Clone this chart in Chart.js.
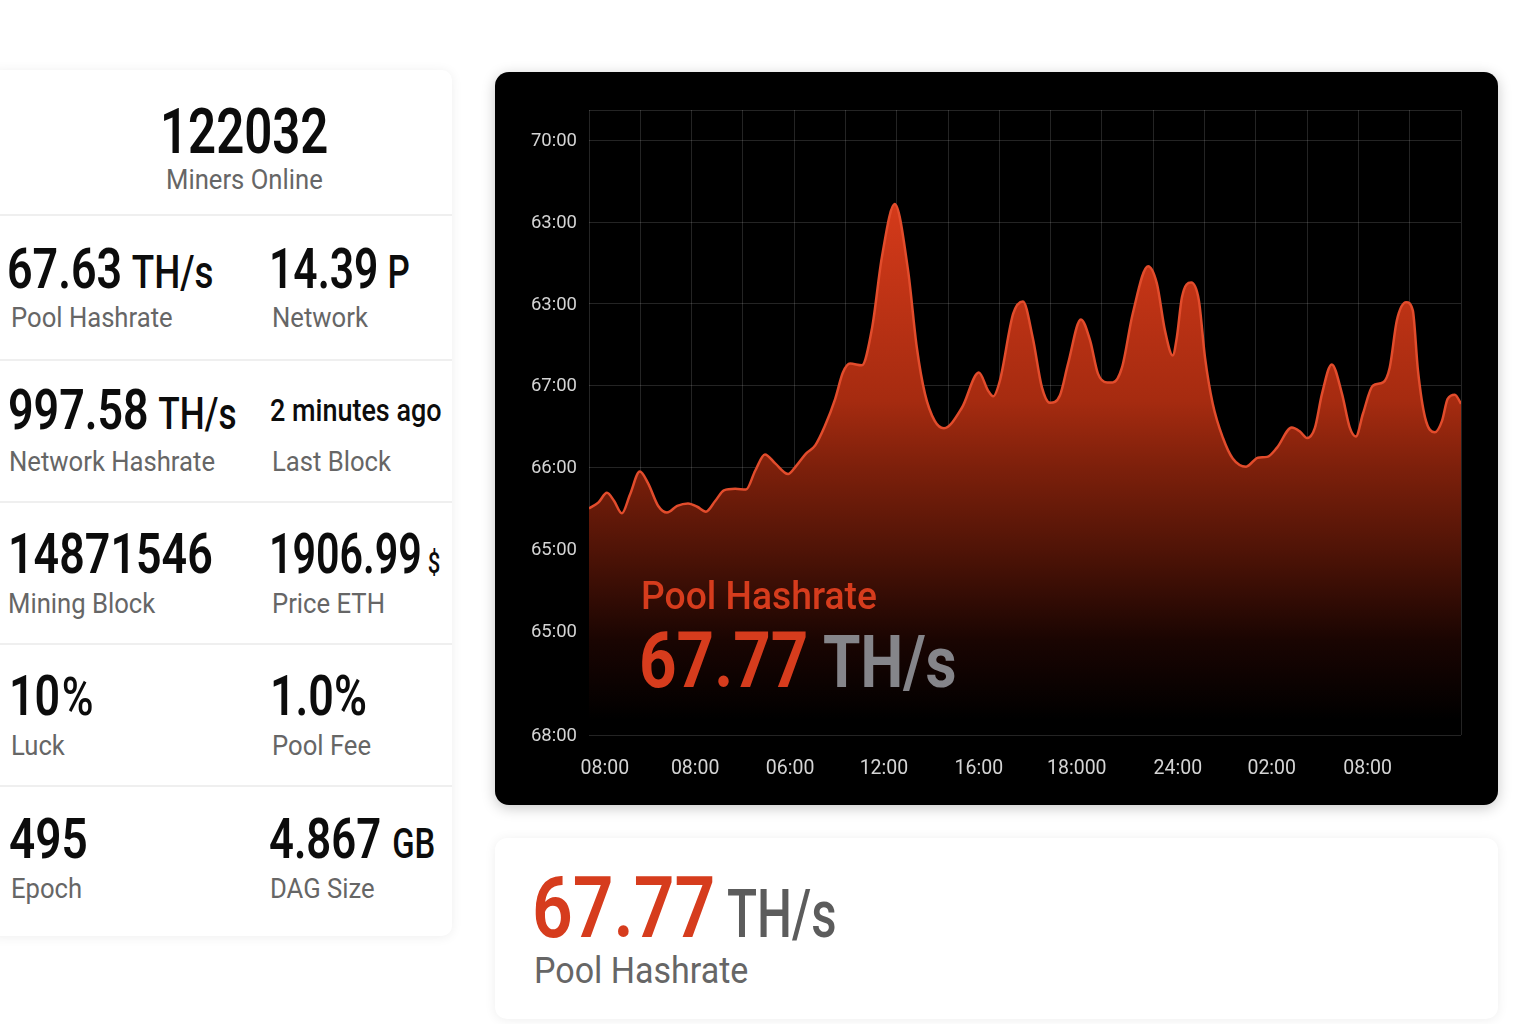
<!DOCTYPE html>
<html>
<head>
<meta charset="utf-8">
<title>Pool Hashrate</title>
<script src="https://cdn.jsdelivr.net/npm/chart.js@4"></script>
<style>
html, body { margin: 0; padding: 0; background: #fff; width: 1536px; height: 1024px; overflow: hidden; font-family: Roboto, sans-serif; }
.card { position: absolute; background: #fff; box-shadow: 0 1px 12px rgba(0,0,0,.07); }
#stats { left: -12px; top: 70px; width: 464px; height: 866px; border-radius: 10px; }
.divider { position: absolute; left: 0; width: 100%; height: 2px; background: #efefef; }
.val, .lab { position: absolute; white-space: nowrap; transform-origin: left center; }
.val { color: #0c0c0c; font-weight: 600; font-size: 56px; line-height: 56px; transform: scaleX(.8); }
.val small { font-size: 46px; font-weight: 500; margin-left: 12px; }
.lab { color: #666; font-size: 27px; line-height: 32px; transform: scaleX(.95); }
#main { left: 495px; top: 72px; width: 1003px; height: 733px; background: #000; border-radius: 14px; box-shadow: 0 3px 14px rgba(0,0,0,.22); overflow: hidden; }
#hashChart { position: absolute; left: 0; top: 0; }
.overlayTitle { position: absolute; left: 146px; top: 502px; color: #d63c1d; font-size: 39px; line-height: 44px; font-weight: 500; white-space: nowrap; transform: scaleX(.955); transform-origin: left center; }
.overlayVal { position: absolute; left: 144px; top: 544px; color: #d63c1d; font-size: 78px; line-height: 90px; font-weight: 700; white-space: nowrap; transform: scaleX(.84); transform-origin: left center; }
.overlayVal span { color: #85858a; font-size: 72px; margin-left: -2px; }
#bottom { left: 495px; top: 838px; width: 1003px; height: 181px; border-radius: 12px; }
.bottomVal { position: absolute; left: 37px; top: 20px; color: #d63c1d; font-size: 86px; line-height: 100px; font-weight: 600; white-space: nowrap; transform: scaleX(.83); transform-origin: left center; }
.bottomVal span { display: inline-block; color: #5c5c5c; font-size: 66px; font-weight: 500; margin-left: 14px; transform: scaleX(.9); transform-origin: left center; }
.bottomLab { position: absolute; left: 39px; top: 111px; color: #666; font-size: 36px; line-height: 44px; white-space: nowrap; transform: scaleX(.945); transform-origin: left center; }
</style>
</head>
<body>

<div class="card" id="stats"></div>

<div class="card" id="main">
  <canvas id="hashChart" width="1003" height="733"></canvas>
  <div class="overlayTitle">Pool Hashrate</div>
  <div class="overlayVal">67.77 <span>TH/s</span></div>
</div>

<div class="card" id="bottom">
  <div class="bottomVal">67.77<span>TH/s</span></div>
  <div class="bottomLab">Pool Hashrate</div>
</div>

<script>
const hours = [0,0.18,0.35,0.49,0.64,0.80,0.99,1.15,1.35,1.52,1.72,1.93,2.11,2.28,2.46,2.63,2.85,3.06,3.24,3.43,3.63,3.88,4.04,4.23,4.41,4.60,4.80,4.95,5.09,5.32,5.52,5.71,5.96,6.22,6.39,6.55,6.74,6.92,7.27,7.60,7.78,7.88,8.01,8.27,8.46,8.65,8.83,8.99,9.18,9.34,9.59,9.77,9.92,10.10,10.21,10.39,10.60,10.90,11.07,11.23,11.38,11.46,11.56,11.74,11.89,12.01,12.16,12.36,12.55,12.81,13.04,13.22,13.41,13.70,13.86,14.00,14.15,14.29,14.48,14.68,14.83,14.95,15.09,15.28,15.48,15.61,15.75,15.93,16.06,16.16,16.30,16.49,16.63,16.74,16.88,17];
const hashrate = [65.50,65.57,65.69,65.59,65.44,65.67,65.95,65.81,65.53,65.45,65.53,65.56,65.52,65.46,65.59,65.72,65.74,65.73,65.96,66.16,66.05,65.92,66.02,66.17,66.27,66.51,66.84,67.16,67.27,67.25,67.71,68.57,69.22,68.41,67.47,66.90,66.57,66.48,66.73,67.16,66.94,66.87,67.06,67.88,68.03,67.59,66.98,66.79,66.88,67.27,67.81,67.55,67.15,67.04,67.04,67.22,67.88,68.46,68.25,67.67,67.37,67.59,68.08,68.26,68.04,67.34,66.78,66.36,66.11,66.01,66.12,66.13,66.24,66.49,66.44,66.36,66.48,66.90,67.26,66.90,66.49,66.38,66.66,67.00,67.04,67.22,67.80,68.02,67.92,67.19,66.61,66.43,66.57,66.84,66.89,66.78];

const yTickValues = [62.73,64,65,66,67,68,69,70,70.37];
const yTickLabels = ['68:00','65:00','65:00','66:00','67:00','63:00','63:00','70:00',''];
const xTickValues = [0.31,2.07,3.92,5.75,7.60,9.51,11.48,13.31,15.18];
const xTickLabels = ['08:00','08:00','06:00','12:00','16:00','18:000','24:00','02:00','08:00'];

const statValues = ['67.63','14.39','997.58','','14871546','1906.99','10','1.0%','495','4.867'];
const statUnits = ['TH/s','P','TH/s','','','$','%','','','GB'];
const statLabels = ['Pool Hashrate','Network','Network Hashrate','Last Block','Mining Block','Price ETH','Luck','Pool Fee','Epoch','DAG Size'];
const lastBlock = '2 minutes ago';

// stat card: rows are laid out by hand to sit on the dividers
const stats = document.getElementById('stats');
[144, 289, 431, 573, 715].forEach(y => {
    const d = document.createElement('div');
    d.className = 'divider';
    d.style.top = y + 'px';
    stats.appendChild(d);
});

function addText(cls, html, x, y, extra) {
    const el = document.createElement('div');
    el.className = cls;
    el.innerHTML = html;
    el.style.left = (x + 12) + 'px';
    el.style.top = (y - 70) + 'px';
    if (extra) el.style.cssText += extra;
    stats.appendChild(el);
    return el;
}

addText('val', '122032', 160, 100, 'font-size:63px;line-height:63px;transform:scaleX(.78);');
addText('lab', 'Miners Online', 166, 164);

const valueTops = [241, 382, 526, 668, 811];
const labelTops = [302, 446, 588, 730, 873];
const valueX = [7, 269, 8, 269, 8, 269, 9, 270, 9, 269];
const labelX = [11, 272, 9, 272, 8, 272, 11, 272, 11, 270];
// a few values are narrower or have a smaller unit than the rest
const valueExtra = { 1: 'transform:scaleX(.76);', 5: 'transform:scaleX(.735);', 8: 'transform:scaleX(.82);', 9: 'transform:scaleX(.78);' };
const smallExtra = { 2: 'font-size:44px;', 5: 'font-size:30px;margin-left:8px;', 6: 'font-size:54px;margin-left:2px;', 9: 'font-size:42px;margin-left:14px;' };

statValues.forEach((v, i) => {
    const row = Math.floor(i / 2);
    let html = v;
    if (statUnits[i]) html += '<small style="' + (smallExtra[i] || '') + '">' + statUnits[i] + '</small>';
    if (i === 3) {
        addText('val', lastBlock, valueX[i] + 1, valueTops[row] + 7, 'font-size:31px;line-height:44px;font-weight:500;transform:scaleX(.87);');
    } else {
        addText('val', html, valueX[i], valueTops[row], valueExtra[i]);
    }
    addText('lab', statLabels[i], labelX[i], labelTops[row]);
});

const ctx = document.getElementById('hashChart').getContext('2d');

function fillGradient(context) {
    const area = context.chart.chartArea;
    if (!area) return '#8a2410';
    const g = context.chart.ctx.createLinearGradient(0, area.top, 0, area.bottom);
    g.addColorStop(0.15, '#d43a1a');
    g.addColorStop(0.464, '#a62b10');
    g.addColorStop(0.57, '#7e200b');
    g.addColorStop(0.72, '#4a1206');
    g.addColorStop(0.848, '#1a0502');
    g.addColorStop(0.976, '#000000');
    return g;
}

const gridColor = 'rgba(255,255,255,0.14)';

new Chart(ctx, {
    type: 'line',
    data: {
        datasets: [{
            label: 'Pool Hashrate',
            data: hours.map((h, i) => ({ x: h, y: hashrate[i] })),
            borderColor: '#e24c2c',
            borderWidth: 2.5,
            backgroundColor: fillGradient,
            fill: 'start',
            cubicInterpolationMode: 'monotone',
            pointRadius: 0
        }]
    },
    options: {
        responsive: false,
        animation: false,
        layout: { padding: { left: 0, right: 37, top: 38, bottom: 0 } },
        plugins: { legend: { display: false }, tooltip: { enabled: false } },
        scales: {
            x: {
                type: 'linear',
                min: 0,
                max: 17,
                ticks: { display: false, stepSize: 1 },
                grid: { color: gridColor, drawTicks: false },
                border: { display: false },
                afterFit: s => { s.height = 0; }
            },
            xLabels: {
                type: 'linear',
                axis: 'x',
                position: 'bottom',
                min: 0,
                max: 17,
                afterBuildTicks: s => { s.ticks = xTickValues.map(v => ({ value: v })); },
                afterFit: s => { s.height = 70; },
                grid: { display: false },
                border: { display: false },
                ticks: {
                    color: '#d4d4d4',
                    font: { family: 'Roboto', size: 19.5 },
                    padding: 14,
                    autoSkip: false,
                    maxRotation: 0,
                    callback: (v, i) => xTickLabels[i]
                }
            },
            y: {
                min: 62.73,
                max: 70.37,
                afterBuildTicks: s => { s.ticks = yTickValues.map(v => ({ value: v })); },
                afterFit: s => { s.width = 94; },
                grid: { color: gridColor, drawTicks: false },
                border: { display: false },
                ticks: {
                    color: '#d4d4d4',
                    font: { family: 'Roboto', size: 18.5 },
                    padding: 12,
                    labelOffset: 1,
                    autoSkip: false,
                    callback: (v, i) => yTickLabels[i]
                }
            }
        }
    }
});
</script>
</body>
</html>
